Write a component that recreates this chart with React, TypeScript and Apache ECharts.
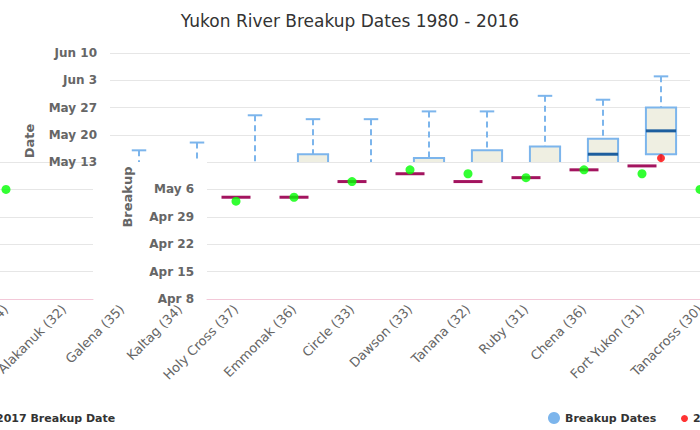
import React, { useEffect, useRef } from "react";
import * as echarts from "echarts";

// ---- tick labels ----
const upperTickLabels = ["May 13", "May 20", "May 27", "Jun 3", "Jun 10"];
const lowerTickLabels = ["Apr 8", "Apr 15", "Apr 22", "Apr 29", "May 6", "May 13"];

// ---- categories ----
const stations = [
  "Holy Cross (37)", "Emmonak (36)", "Circle (33)", "Dawson (33)", "Tanana (32)",
  "Ruby (31)", "Chena (36)", "Fort Yukon (31)", "Tanacross (30)", "Eagle (34)",
];
const leftStations = ["Nulato (34)", "Alakanuk (32)"];
const gapStations = ["Galena (35)", "Kaltag (34)"];
const lowerStationCount = 9;

// ---- series values (dates) ----
const whiskerLow = ["Apr 24", "Apr 25", "Apr 27", "Apr 29", "Apr 28", "Apr 29", "May 1", "May 1", "May 3", "May 8"];
const quartile1 = ["May 1", "May 1", "May 4", "May 6", "May 4", "May 5", "May 7", "May 8", "May 10", "May 15"];
const medians = ["May 4", "May 4", "May 8", "May 10", "May 8", "May 9", "May 11", "May 12", "May 15", "May 21"];
const quartile3 = ["May 10", "May 11", "May 12", "May 15", "May 12", "May 14", "May 16", "May 17", "May 19", "May 27"];
const whiskerHigh = ["May 16", "May 18", "May 25", "May 24", "May 24", "May 26", "May 26", "May 30", "May 29", "Jun 4"];
const breakup2017 = ["May 3", "May 4", "May 8", "May 11", "May 10", "May 9", "May 11", "May 10", "May 6", "May 14"];
const leftBreakup2017 = ["May 6", "-"];

// days since Apr 8
const MONTH_OFFSET: Record<string, number> = { Apr: 0, May: 30, Jun: 61 };
function dayOf(s: string): any {
  if (s === "-") return "-";
  const [m, d] = s.split(" ");
  return MONTH_OFFSET[m] + Number(d) - 8;
}

const FONT = "DejaVu Sans";
const GRID_LINE = "#e6e6e6";
const PINK = "#f3c8d8";
const BOX_STROKE = "#7cb5ec";

const renderBox = (params: any, api: any) => {
  const i = api.value(0);
  const cs = params.coordSys;
  const top = cs.y;
  const bottom = cs.y + cs.height;
  const cx = api.coord([i, api.value(1)])[0];
  const yv = (k: number) => api.coord([i, api.value(k)])[1];
  const yLow = yv(1), yQ1 = yv(2), yMed = yv(3), yQ3 = yv(4), yHigh = yv(5);
  const band = api.size([1, 0])[0];
  const half = band * 0.26;
  const cap = band * 0.125;
  const clampY = (v: number) => Math.min(Math.max(v, top), bottom);
  const inside = (v: number) => v >= top && v <= bottom;
  const children: any[] = [];
  const dashed = { stroke: BOX_STROKE, lineWidth: 2, lineDash: [6, 4] };
  const solid = { stroke: BOX_STROKE, lineWidth: 2 };
  let a = clampY(yHigh), b = clampY(yQ3);
  if (b - a > 0.5) children.push({ type: "line", shape: { x1: cx, y1: a, x2: cx, y2: b }, style: dashed });
  a = clampY(yQ1); b = clampY(yLow);
  if (b - a > 0.5) children.push({ type: "line", shape: { x1: cx, y1: a, x2: cx, y2: b }, style: dashed });
  if (inside(yHigh)) children.push({ type: "line", shape: { x1: cx - cap, y1: yHigh, x2: cx + cap, y2: yHigh }, style: solid });
  if (inside(yLow)) children.push({ type: "line", shape: { x1: cx - cap, y1: yLow, x2: cx + cap, y2: yLow }, style: solid });
  const b1 = clampY(yQ3), b2 = clampY(yQ1);
  if (b2 - b1 > 0.5) {
    children.push({ type: "rect", shape: { x: cx - half, y: b1, width: 2 * half, height: b2 - b1 }, style: { fill: "#efefe2" } });
    children.push({ type: "line", shape: { x1: cx - half, y1: b1, x2: cx - half, y2: b2 }, style: solid });
    children.push({ type: "line", shape: { x1: cx + half, y1: b1, x2: cx + half, y2: b2 }, style: solid });
    if (inside(yQ3)) children.push({ type: "line", shape: { x1: cx - half - 1, y1: yQ3, x2: cx + half + 1, y2: yQ3 }, style: solid });
    if (inside(yQ1)) children.push({ type: "line", shape: { x1: cx - half - 1, y1: yQ1, x2: cx + half + 1, y2: yQ1 }, style: solid });
  }
  if (inside(yMed)) children.push({ type: "line", shape: { x1: cx - half, y1: yMed, x2: cx + half, y2: yMed }, style: { stroke: "#1d5e9e", lineWidth: 3 } });
  return { type: "group", children };
};

const renderMedianBar = (params: any, api: any) => {
  const i = api.value(0);
  const [cx, cy] = api.coord([i, api.value(1)]);
  const cs = params.coordSys;
  if (cy < cs.y || cy > cs.y + cs.height) return { type: "group", children: [] };
  const band = api.size([1, 0])[0];
  return {
    type: "line",
    shape: { x1: cx - band * 0.25, y1: cy, x2: cx + band * 0.25, y2: cy },
    style: { stroke: "#a3145f", lineWidth: 3 },
  };
};

const tickFmt = (labels: string[], min: number) => (v: number) => {
  const idx = Math.round((v - min) / 7);
  return labels[idx] ?? "";
};

export default function App() {
  const ref = useRef<HTMLDivElement>(null);
  useEffect(() => {
    if (!ref.current) return;
    const chart = echarts.init(ref.current, undefined, { renderer: "svg" });
    const upMin = dayOf(upperTickLabels[0]);
    const upMax = dayOf(upperTickLabels[upperTickLabels.length - 1]);
    const loMin = dayOf(lowerTickLabels[0]);
    const loMax = dayOf(lowerTickLabels[lowerTickLabels.length - 1]);
    const yLabel = { color: "#666", fontWeight: "bold", fontSize: 12, fontFamily: FONT, margin: 13 };
    const xLabel = { color: "#666", fontSize: 13, fontFamily: FONT, rotate: 45, interval: 0, margin: 8 };
    const lowerCats = stations.slice(0, lowerStationCount);
    const legendText = { fontSize: 11, fontWeight: "bold", color: "#333", fontFamily: FONT };

    const option: any = {
      animation: false,
      textStyle: { fontFamily: FONT },
      title: {
        text: "Yukon River Breakup Dates 1980 - 2016",
        left: "center",
        top: 7,
        textStyle: { fontSize: 17, fontWeight: "normal", color: "#333", fontFamily: FONT },
      },
      legend: [
        {
          data: [{ name: "2017 Breakup Date", icon: "circle", itemStyle: { color: "#ff0000" } }],
          left: -21, top: 408, itemWidth: 7, itemHeight: 7, selectedMode: false,
          textStyle: legendText,
        },
        {
          data: [{ name: "Breakup Dates", icon: "circle", itemStyle: { color: BOX_STROKE } }],
          left: 543, top: 407, itemWidth: 12, itemHeight: 12, selectedMode: false,
          textStyle: legendText,
        },
        {
          data: [{ name: "2017 Breakup Date", icon: "circle", itemStyle: { color: "#ff0000" } }],
          left: 676, top: 408, itemWidth: 7, itemHeight: 7, selectedMode: false,
          textStyle: legendText,
        },
      ],
      grid: [
        { left: 110, top: 53, width: 580, height: 109, outerBoundsMode: "none" },
        { left: -23, top: 162, width: 116, height: 137, outerBoundsMode: "none" },
        { left: 93, top: 162, width: 116, height: 137, outerBoundsMode: "none" },
        { left: 207, top: 162, width: 58 * lowerStationCount, height: 137, outerBoundsMode: "none" },
      ],
      xAxis: [
        { gridIndex: 0, type: "category", data: stations, show: false },
        {
          gridIndex: 1, type: "category", data: leftStations,
          axisLine: { lineStyle: { color: PINK } },
          axisTick: { length: 10, lineStyle: { color: PINK } },
          axisLabel: xLabel,
        },
        {
          gridIndex: 2, type: "category", data: gapStations,
          axisLine: { show: false }, axisTick: { show: false },
          axisLabel: xLabel,
        },
        {
          gridIndex: 3, type: "category", data: lowerCats,
          axisLine: { lineStyle: { color: PINK } },
          axisTick: { length: 10, lineStyle: { color: PINK } },
          axisLabel: xLabel,
        },
      ],
      yAxis: [
        {
          gridIndex: 0, type: "value", min: upMin, max: upMax, interval: 7,
          axisLine: { show: false }, axisTick: { show: false },
          axisLabel: { ...yLabel, formatter: tickFmt(upperTickLabels, upMin) },
          splitLine: { showMinLine: false, lineStyle: { color: GRID_LINE } },
          name: "Date", nameLocation: "middle", nameGap: 74,
          nameTextStyle: { color: "#666", fontWeight: "bold", fontSize: 13, fontFamily: FONT, padding: [0, 67, 0, 0] },
        },
        {
          gridIndex: 1, type: "value", min: loMin, max: loMax, interval: 7,
          axisLine: { show: false }, axisTick: { show: false }, axisLabel: { show: false },
          splitLine: { lineStyle: { color: GRID_LINE } },
        },
        {
          gridIndex: 2, type: "value", min: loMin, max: loMax, interval: 7,
          axisLine: { show: false }, axisTick: { show: false }, axisLabel: { show: false },
          splitLine: { show: false },
        },
        {
          gridIndex: 3, type: "value", min: loMin, max: loMax, interval: 7,
          axisLine: { show: false }, axisTick: { show: false },
          axisLabel: { ...yLabel, showMaxLabel: false, formatter: tickFmt(lowerTickLabels, loMin) },
          splitLine: { lineStyle: { color: GRID_LINE } },
          name: "Breakup", nameLocation: "middle", nameGap: 73,
          nameTextStyle: { color: "#666", fontWeight: "bold", fontSize: 13, fontFamily: FONT, padding: [0, 0, 0, 67] },
        },
      ],
      series: [
        {
          name: "Breakup Dates",
          type: "custom",
          xAxisIndex: 0, yAxisIndex: 0,
          itemStyle: { color: BOX_STROKE },
          renderItem: renderBox,
          encode: { x: 0, y: [1, 2, 3, 4, 5] },
          data: stations.map((_, i) => [
            i, dayOf(whiskerLow[i]), dayOf(quartile1[i]), dayOf(medians[i]),
            dayOf(quartile3[i]), dayOf(whiskerHigh[i]),
          ]),
          z: 2,
        },
        {
          name: "2017 Breakup Date",
          type: "scatter",
          xAxisIndex: 0, yAxisIndex: 0,
          symbolSize: 8,
          itemStyle: { color: "#ff0000" },
          data: stations.map((_, i) => [i, dayOf(breakup2017[i])]),
          z: 3,
        },
        {
          name: "Median (redrawn)",
          type: "custom",
          xAxisIndex: 3, yAxisIndex: 3,
          renderItem: renderMedianBar,
          encode: { x: 0, y: 1 },
          data: lowerCats.map((_, i) => [i, dayOf(medians[i])]),
          z: 2,
        },
        {
          name: "2017 (redrawn)",
          type: "scatter",
          xAxisIndex: 3, yAxisIndex: 3,
          symbolSize: 9,
          itemStyle: { color: "#00ff00" },
          data: lowerCats.map((_, i) => [i, dayOf(breakup2017[i])]),
          z: 3,
        },
        {
          name: "2017 (left)",
          type: "scatter",
          xAxisIndex: 1, yAxisIndex: 1,
          symbolSize: 9,
          itemStyle: { color: "#00ff00" },
          data: leftStations.map((_, i) => [i, dayOf(leftBreakup2017[i])]),
          z: 3,
        },
      ],
    };
    chart.setOption(option);
    return () => chart.dispose();
  }, []);
  return (
    <div
      ref={ref}
      style={{ position: "fixed", left: 0, top: 0, width: 700, height: 430, background: "#fff" }}
    />
  );
}
